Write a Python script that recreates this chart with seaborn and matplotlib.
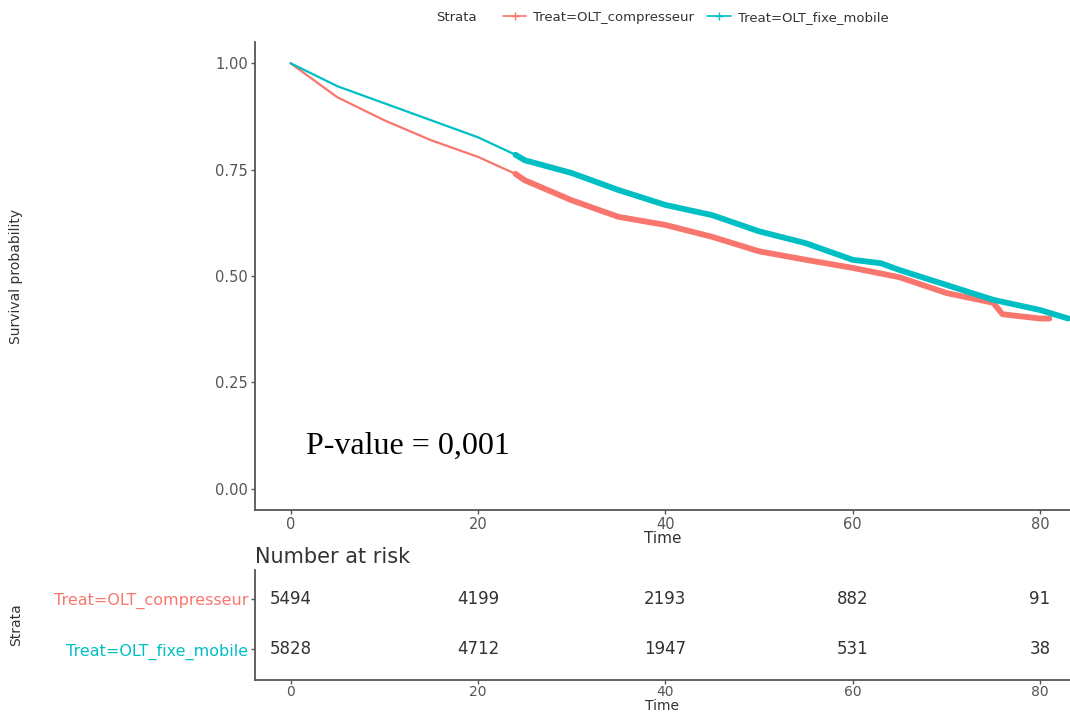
import numpy as np
import pandas as pd
import matplotlib
matplotlib.use('Agg')
import matplotlib.pyplot as plt
from matplotlib.lines import Line2D
import seaborn as sns

# courbes de survie
compresseur_t = [0, 5, 10, 15, 20, 24, 25, 30, 35, 40, 45, 50, 55, 60, 65, 70, 75, 76, 80, 81]
compresseur_s = [1.00, 0.92, 0.866, 0.819, 0.78, 0.74, 0.725, 0.678, 0.639, 0.62, 0.592, 0.558,
                 0.538, 0.519, 0.497, 0.46, 0.437, 0.41, 0.40, 0.40]
fixe_t = [0, 5, 10, 15, 20, 24, 25, 30, 35, 40, 45, 50, 55, 60, 63, 65, 70, 75, 80, 83]
fixe_s = [1.00, 0.946, 0.906, 0.866, 0.826, 0.785, 0.772, 0.742, 0.702, 0.667, 0.643, 0.605,
          0.577, 0.538, 0.53, 0.514, 0.479, 0.444, 0.42, 0.40]

# nombre de sujets a risque
risk_times = [0, 20, 40, 60, 80]
risk_compresseur = [5494, 4199, 2193, 882, 91]
risk_fixe = [5828, 4712, 1947, 531, 38]

strata = ['Treat=OLT_compresseur', 'Treat=OLT_fixe_mobile']
colors = ['#F8766D', '#00BFC4']
censor_start = 24  # a partir d'ici les marques de censure se superposent

sns.set_theme(style='white')
plt.rcParams['font.family'] = ['DejaVu Sans']

surv = pd.concat([
    pd.DataFrame({'time': compresseur_t, 'surv': compresseur_s, 'strata': strata[0]}),
    pd.DataFrame({'time': fixe_t, 'surv': fixe_s, 'strata': strata[1]}),
])

fig = plt.figure(figsize=(10.7, 7.2), dpi=100)
ax = fig.add_axes([0.2383, 0.2917, 0.7617, 0.65])
ax2 = fig.add_axes([0.2383, 0.056, 0.7617, 0.1523])

pal = dict(zip(strata, colors))
sns.lineplot(data=surv, x='time', y='surv', hue='strata', palette=pal, linewidth=1.6,
             legend=False, ax=ax, estimator=None, sort=True)
thick = surv[surv.time >= censor_start]
sns.lineplot(data=thick, x='time', y='surv', hue='strata', palette=pal, linewidth=4.2,
             legend=False, ax=ax, estimator=None, sort=True)

ax.set_xlim(-3.8, 83.2)
ax.set_ylim(-0.05, 1.05)
ax.set_xticks(risk_times)
ax.set_yticks([0, 0.25, 0.5, 0.75, 1.0])
ax.set_yticklabels(['0.00', '0.25', '0.50', '0.75', '1.00'])
ax.set_xlabel('Time', fontsize=11, color='#333333', labelpad=-1)
ax.set_ylabel('Survival probability', fontsize=10, color='#333333',
              family=['Liberation Sans Narrow', 'DejaVu Sans'])
ax.yaxis.set_label_coords(-0.285, 0.5)
ax.text(1.6, 0.10, 'P-value = 0,001', fontsize=23, family=['Liberation Serif', 'DejaVu Serif'],
        ha='left', va='center', color='black')

# table des effectifs
for row, vals in zip([2, 1], [risk_compresseur, risk_fixe]):
    for t, n in zip(risk_times, vals):
        ax2.text(t, row, str(n), ha='center', va='center', fontsize=12, color='#333333')
ax2.set_xlim(-3.8, 83.2)
ax2.set_ylim(0.4, 2.58)
ax2.set_xticks(risk_times)
ax2.set_yticks([2, 1])
ax2.set_yticklabels(strata)
ax2.set_xlabel('Time', fontsize=10, color='#333333', labelpad=0)
ax2.set_ylabel('Strata', fontsize=10, color='#333333',
               family=['Liberation Sans Narrow', 'DejaVu Sans'])
ax2.yaxis.set_label_coords(-0.285, 0.5)
ax2.set_title('Number at risk', loc='left', fontsize=15, color='#333333', pad=5)

for a in (ax, ax2):
    sns.despine(ax=a)
    for s in ('left', 'bottom'):
        a.spines[s].set_color('#555555')
        a.spines[s].set_linewidth(1.3)
    a.tick_params(axis='both', length=3, width=1, color='#555555', labelsize=10.5,
                  labelcolor='#555555', pad=2, left=True, bottom=True)
ax2.tick_params(axis='x', labelsize=10, pad=1)
ax2.tick_params(axis='y', labelsize=11.5)
for lab, c in zip(ax2.get_yticklabels(), colors):
    lab.set_color(c)

handles = [Line2D([], [], color=c, marker='+', markersize=6, linewidth=1.2) for c in colors]
fig.text(0.408, 0.976, 'Strata', fontsize=9.5, color='#333333', va='center')
fig.legend(handles, strata, loc='center', bbox_to_anchor=(0.65, 0.976), ncol=2, frameon=False,
           fontsize=9.5, handlelength=1.8, columnspacing=1.0, handletextpad=0.5,
           labelcolor='#333333')

fig.savefig('out.png', dpi=100)
